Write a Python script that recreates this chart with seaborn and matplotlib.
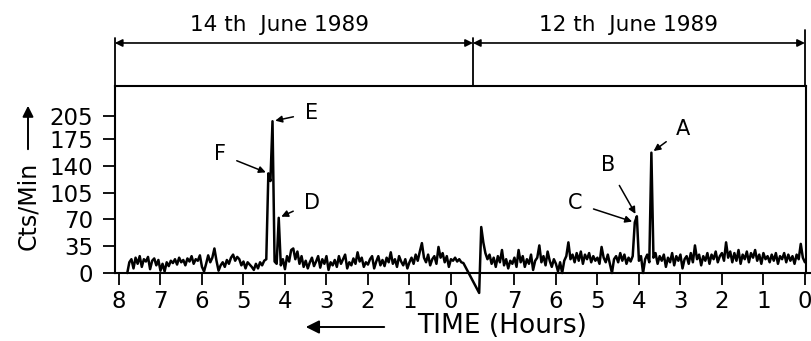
import numpy as np
import pandas as pd
import matplotlib
matplotlib.use("Agg")
import matplotlib.pyplot as plt
import matplotlib.transforms as mtrans
import seaborn as sns

# ---------------- data ----------------
STEP = 0.05                 # hours between samples
left_start_hour = 7.80      # 14th June, hours before end (counts down)
left_counts = [
    0, 14, 18, 6, 20, 12, 22, 8, 18, 15, 21, 5, 16, 19, 10, 17, 3, 12, 2, 14,
    9, 16, 13, 18, 11, 20, 14, 17, 10, 19, 15, 22, 12, 18, 16, 23, 8, 2, 12, 23,
    14, 20, 32, 16, 3, 10, 14, 8, 17, 12, 20, 24, 16, 21, 18, 10, 15, 6, 14, 11,
    8, 4, 12, 6, 14, 10, 16, 18, 130, 120, 198, 15, 12, 72, 10, 18, 5, 22, 15, 30,
    32, 18, 28, 12, 22, 8, 16, 6, 14, 20, 9, 15, 22, 7, 18, 12, 22, 4, 14, 10,
    17, 8, 22, 12, 18, 24, 6, 14, 10, 19, 12, 27, 15, 20, 8, 14, 11, 18, 22, 6,
    15, 22, 10, 17, 9, 20, 14, 27, 12, 18, 8, 22, 15, 10, 18, 6, 14, 20, 12, 24,
    16, 28, 39, 20, 14, 24, 10, 18, 22, 12, 34, 20, 26, 14, 22, 8, 18, 16, 20, 15,
    18, 14, 13,
]
right_start_hour = 7.85     # 12th June
right_counts = [
    -26, 60, 40, 26, 18, 24, 12, 20, 8, 22, 14, 30, 10, 18, 6, 16, 12, 20, 8, 30,
    14, 22, 8, 18, 12, 24, 4, 16, 20, 36, 14, 22, 10, 28, 16, 8, 18, 12, 2, 14,
    0, 16, 22, 40, 18, 24, 14, 26, 16, 28, 12, 24, 18, 26, 14, 22, 16, 20, 12, 34,
    20, 14, 24, 12, 0, 18, 22, 14, 26, 16, 24, 12, 20, 15, 22, 66, 74, 16, 22, 0,
    18, 24, 14, 157, 20, 26, 12, 22, 16, 24, 8, 20, 14, 26, 10, 22, 16, 24, 6, 18,
    22, 12, 26, 14, 36, 18, 24, 10, 22, 16, 26, 12, 24, 18, 28, 14, 22, 26, 16, 40,
    20, 28, 14, 26, 16, 30, 12, 24, 18, 28, 14, 26, 20, 30, 16, 24, 12, 26, 18, 22,
    14, 24, 16, 26, 12, 22, 18, 26, 14, 24, 16, 22, 12, 24, 18, 38, 20, 14,
]
left_tick_hours = [8, 7, 6, 5, 4, 3, 2, 1, 0]
right_tick_hours = [7, 6, 5, 4, 3, 2, 1, 0]
y_ticks = [0, 35, 70, 105, 140, 175, 205]
day_labels = ["14 th  June 1989", "12 th  June 1989"]
peak_labels = {"left": ["F", "E", "D"], "right": ["C", "B", "A"]}

GAP = 0.53  # gap (hours) between the two days on the plot

def u_left(h):
    return 8 - np.asarray(h, dtype=float)

def u_right(h):
    return 8 + GAP + 8 - np.asarray(h, dtype=float)

left_hours = left_start_hour - STEP * np.arange(len(left_counts))
right_hours = right_start_hour - STEP * np.arange(len(right_counts))

df = pd.DataFrame({
    "u": np.concatenate([u_left(left_hours), u_right(right_hours)]),
    "counts": np.concatenate([left_counts, right_counts]),
})

# ---------------- figure ----------------
sns.set_theme(style="white")
plt.rcParams["font.family"] = ["DejaVu Sans"]

W, H = 812, 341
fig = plt.figure(figsize=(W / 100, H / 100), dpi=100)
ax = fig.add_axes([0.1414, 0.1994, 0.8509, 0.5484])

sns.lineplot(data=df, x="u", y="counts", ax=ax, color="black", lw=1.8,
             estimator=None, sort=False)
for ln in ax.lines:
    ln.set_clip_on(False)
    ln.set_solid_joinstyle("round")

ax.set_xlim(-0.1, u_right(0) + 0.02)
ax.set_ylim(0, 244)

xt = list(u_left(left_tick_hours)) + list(u_right(right_tick_hours))
xl = [str(h) for h in left_tick_hours] + [str(h) for h in right_tick_hours]
ax.set_xticks(xt)
ax.set_xticklabels(xl, fontsize=16.5)
ax.set_yticks(y_ticks)
ax.set_yticklabels([str(v) for v in y_ticks], fontsize=16.5)
ax.tick_params(axis="x", direction="out", length=8.5, width=1.3, pad=4,
               colors="black", bottom=True)
ax.tick_params(axis="y", direction="out", length=8.5, width=1.3, pad=7,
               colors="black", left=True)
ax.set_xlabel("")
ax.set_ylabel("")
for s in ax.spines.values():
    s.set_color("black")
    s.set_linewidth(1.5)
    s.set_visible(True)

# little extension of the x axis line past the frame
ax.plot([1.0, 1.012], [0, 0], transform=ax.transAxes, color="black",
        lw=1.5, clip_on=False)

# ---------------- header with day spans ----------------
bt = mtrans.blended_transform_factory(ax.transData, ax.transAxes)
x0, xm, x1 = -0.1, u_right(8), u_right(0)
for xv, top in [(x0, 1.257), (xm, 1.257), (x1, 1.30)]:
    ax.plot([xv, xv], [1.0, top], transform=bt, color="black", lw=1.3,
            clip_on=False)
for a, b in [(x0, xm), (xm, x1)]:
    ax.annotate("", xy=(a, 1.23), xytext=(b, 1.23), xycoords=bt, textcoords=bt,
                arrowprops=dict(arrowstyle="<|-|>", color="black", lw=1.2,
                                mutation_scale=11, shrinkA=0, shrinkB=0),
                annotation_clip=False)
ax.text(3.88, 1.326, day_labels[0], transform=bt, ha="center", va="center",
        fontsize=15.5, color="black")
ax.text(12.27, 1.326, day_labels[1], transform=bt, ha="center", va="center",
        fontsize=15.5, color="black")

# ---------------- peak annotations ----------------
arrow_kw = dict(arrowstyle="-|>", color="black", lw=1.1, mutation_scale=10,
                shrinkA=6, shrinkB=2)
offsets = {"F": (-35, 14), "E": (28, 6), "D": (24, 11),
           "C": (-43, 14), "B": (-21, 37), "A": (23, 17)}
left_peak_idx = [68, 70, 73]
right_peak_idx = [75, 76, 83]
for lab, i in zip(peak_labels["left"], left_peak_idx):
    ax.annotate(lab, xy=(u_left(left_hours[i]), left_counts[i]),
                xytext=offsets[lab], textcoords="offset points",
                ha="center", va="center", fontsize=15, color="black",
                arrowprops=arrow_kw, annotation_clip=False)
for lab, i in zip(peak_labels["right"], right_peak_idx):
    ax.annotate(lab, xy=(u_right(right_hours[i]), right_counts[i]),
                xytext=offsets[lab], textcoords="offset points",
                ha="center", va="center", fontsize=15, color="black",
                arrowprops=arrow_kw, annotation_clip=False)

# ---------------- axis titles with arrows ----------------
fig.text(28 / W, 1 - 206 / H, "Cts/Min", rotation=90, ha="center",
         va="center", fontsize=17, color="black")
fig.patches.append(matplotlib.patches.FancyArrowPatch(
    (28 / W, 1 - 152 / H), (28 / W, 1 - 103 / H), transform=fig.transFigure,
    arrowstyle="-|>", mutation_scale=16, color="black", lw=1.4))

fig.text(502 / W, 1 - 326 / H, "TIME (Hours)", ha="center", va="center",
         fontsize=19, color="black")
fig.patches.append(matplotlib.patches.FancyArrowPatch(
    (387 / W, 1 - 327 / H), (303 / W, 1 - 327 / H), transform=fig.transFigure,
    arrowstyle="-|>", mutation_scale=20, color="black", lw=1.4))

fig.savefig("out.png", dpi=100)
